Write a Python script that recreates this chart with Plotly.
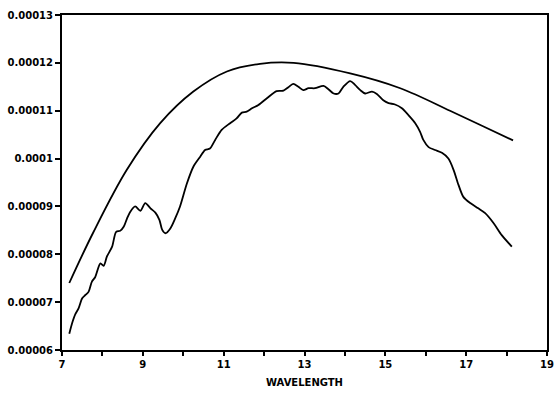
import plotly.graph_objects as go

# Smooth (reference) curve
smooth_x = [7.18, 7.77, 8.6, 9.43, 10.25, 11.08, 11.9, 12.73, 14.13, 15.37, 16.6, 17.43, 18.16]
smooth_y = [7.40, 8.45, 9.76, 10.74, 11.40, 11.82, 11.98, 12.00, 11.78, 11.47, 11.00, 10.67, 10.38]

# Measured (wiggly) curve
meas_x = [7.18, 7.25, 7.33, 7.41, 7.5, 7.58, 7.66, 7.74, 7.82, 7.95, 8.03, 8.11, 8.24, 8.34,
          8.44, 8.53, 8.61, 8.69, 8.81, 8.94, 9.06, 9.19, 9.31, 9.41, 9.48, 9.56, 9.68, 9.8,
          9.92, 10.09, 10.25, 10.42, 10.54, 10.66, 10.79, 10.95, 11.16, 11.32, 11.45, 11.57,
          11.7, 11.86, 12.07, 12.31, 12.48, 12.6, 12.72, 12.85, 12.97, 13.1, 13.26, 13.47,
          13.59, 13.72, 13.84, 13.96, 14.13, 14.25, 14.38, 14.5, 14.67, 14.79, 14.95, 15.08,
          15.24, 15.41, 15.57, 15.74, 15.86, 15.94, 16.07, 16.23, 16.4, 16.56, 16.69, 16.81,
          16.93, 17.1, 17.3, 17.47, 17.68, 17.88, 18.13]
meas_y = [6.34, 6.56, 6.75, 6.87, 7.08, 7.15, 7.22, 7.43, 7.52, 7.81, 7.76, 7.95, 8.16, 8.47,
          8.49, 8.58, 8.75, 8.89, 9.00, 8.91, 9.07, 8.96, 8.87, 8.72, 8.51, 8.44, 8.54, 8.75,
          9.00, 9.48, 9.83, 10.04, 10.18, 10.21, 10.39, 10.60, 10.74, 10.84, 10.96, 10.98,
          11.05, 11.12, 11.26, 11.41, 11.42, 11.49, 11.56, 11.50, 11.43, 11.47, 11.47, 11.52,
          11.45, 11.36, 11.36, 11.50, 11.62, 11.54, 11.43, 11.36, 11.40, 11.35, 11.22, 11.16,
          11.13, 11.05, 10.91, 10.74, 10.56, 10.39, 10.24, 10.18, 10.12, 10.00, 9.76, 9.45,
          9.20, 9.07, 8.96, 8.86, 8.65, 8.40, 8.16]

y_tick_vals = [0.00006, 0.00007, 0.00008, 0.00009, 0.0001, 0.00011, 0.00012, 0.00013]
y_tick_text = ["0.00006", "0.00007", "0.00008", "0.00009", "0.0001", "0.00011", "0.00012", "0.00013"]
x_tick_vals = [7, 9, 11, 13, 15, 17, 19]
x_tick_text = ["7", "9", "11", "13", "15", "17", "19"]

scale = 1e-5
fig = go.Figure()
fig.add_trace(go.Scatter(x=smooth_x, y=[v * scale for v in smooth_y], mode="lines",
                         line=dict(color="black", width=1.8, shape="spline"), showlegend=False))
fig.add_trace(go.Scatter(x=meas_x, y=[v * scale for v in meas_y], mode="lines",
                         line=dict(color="black", width=1.8, shape="spline", smoothing=0.8),
                         showlegend=False))

tickfont = dict(family="DejaVu Sans", size=10, color="black", weight="bold")
fig.update_layout(
    width=554, height=398,
    margin=dict(l=62, r=7, t=15, b=48),
    paper_bgcolor="white", plot_bgcolor="white",
    xaxis=dict(range=[7, 19], tickvals=x_tick_vals, ticktext=x_tick_text, automargin=False,
               showgrid=False, zeroline=False, showline=True, linecolor="black", linewidth=2,
               mirror=True, ticks="outside", ticklen=4, tickwidth=1.5, tickcolor="black",
               minor=dict(dtick=1, tick0=7, ticks="outside", ticklen=4, tickwidth=1.5,
                          tickcolor="black", showgrid=False),
               tickfont=tickfont,
               title=dict(text="WAVELENGTH", standoff=10,
                          font=dict(family="DejaVu Sans", size=10, color="black", weight="bold"))),
    yaxis=dict(range=[0.00006, 0.00013], tickvals=y_tick_vals, ticktext=y_tick_text, automargin=False,
               showgrid=False, zeroline=False, showline=True, linecolor="black", linewidth=2,
               mirror=True, ticks="outside", ticklen=5, tickwidth=1.5, tickcolor="black",
               tickfont=tickfont),
)

fig.write_html("out.html", config={"displayModeBar": False},
               post_script="document.body.style.margin='0';document.body.style.overflow='hidden';")
